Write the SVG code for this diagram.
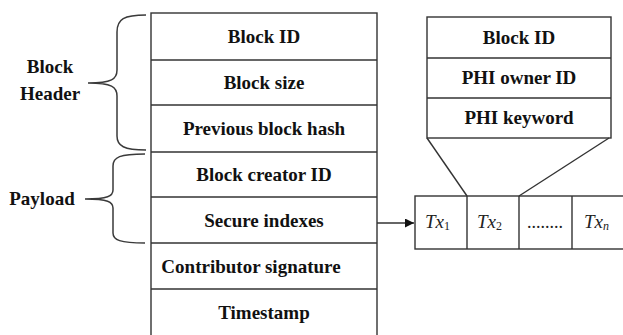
<svg xmlns="http://www.w3.org/2000/svg" width="623" height="335" viewBox="0 0 623 335" font-family="'Liberation Serif', serif">
  <defs>
    <style>
      .box { fill: #ffffff; stroke: #333333; stroke-width: 1.4; }
      .ln { fill: none; stroke: #333333; stroke-width: 1.4; }
      .brace { fill: none; stroke: #3a3a3a; stroke-width: 1.5; }
      .t { font-weight: bold; font-size: 19px; fill: #111111; text-anchor: middle; }
      .tx { font-style: italic; font-size: 19px; fill: #222222; }
      .sub { font-size: 12px; font-style: normal; }
      .subi { font-size: 12px; font-style: italic; }
      .dots { font-size: 18px; fill: #222222; text-anchor: middle; }
    </style>
    <marker id="arrow" viewBox="0 0 10 10" refX="10" refY="5" markerWidth="9" markerHeight="9" markerUnits="userSpaceOnUse" orient="auto">
      <path d="M0,0 L10,5 L0,10 z" fill="#111111"/>
    </marker>
  </defs>

  <!-- Block structure -->
  <g id="block">
    <rect class="box" x="151" y="13" width="226" height="330"/>
    <line class="ln" x1="151" y1="60" x2="377" y2="60"/>
    <line class="ln" x1="151" y1="105" x2="377" y2="105"/>
    <line class="ln" x1="151" y1="152" x2="377" y2="152"/>
    <line class="ln" x1="151" y1="197" x2="377" y2="197"/>
    <line class="ln" x1="151" y1="243" x2="377" y2="243"/>
    <line class="ln" x1="151" y1="289" x2="377" y2="289"/>
    <text class="t" x="264" y="43">Block ID</text>
    <text class="t" x="264" y="89">Block size</text>
    <text class="t" x="264" y="135">Previous block hash</text>
    <text class="t" x="264" y="181">Block creator ID</text>
    <text class="t" x="264" y="227">Secure indexes</text>
    <text class="t" x="251" y="273">Contributor signature</text>
    <text class="t" x="264" y="319">Timestamp</text>
  </g>

  <!-- Header brace -->
  <g id="header-brace">
    <path class="brace" d="M146,15 C124,15 117,19 117,32 L117,70 C117,79 112,83 88,83 C112,83 117,87 117,96 L117,136 C117,146 124,150 146,150"/>
    <text class="t" x="50" y="73">Block</text>
    <text class="t" x="50" y="100">Header</text>
  </g>

  <!-- Payload brace -->
  <g id="payload-brace">
    <path class="brace" d="M145,154 C120,154 113,157 113,166 L113,190 C113,196 108,199 85,199 C108,199 113,202 113,208 L113,233 C113,240 120,243 145,243"/>
    <text class="t" x="42" y="205">Payload</text>
  </g>

  <!-- Transaction fields -->
  <g id="tx-fields">
    <rect class="box" x="427" y="17" width="184" height="121"/>
    <line class="ln" x1="427" y1="58" x2="611" y2="58"/>
    <line class="ln" x1="427" y1="98" x2="611" y2="98"/>
    <text class="t" x="519" y="44">Block ID</text>
    <text class="t" x="519" y="84">PHI owner ID</text>
    <text class="t" x="519" y="124">PHI keyword</text>
  </g>

  <!-- Transaction list -->
  <g id="tx-list">
    <rect class="box" x="415" y="196" width="215" height="53"/>
    <line class="ln" x1="467" y1="196" x2="467" y2="249"/>
    <line class="ln" x1="519" y1="196" x2="519" y2="249"/>
    <line class="ln" x1="572" y1="196" x2="572" y2="249"/>
    <text class="tx" x="425" y="228">Tx<tspan class="sub" dy="2">1</tspan></text>
    <text class="tx" x="477" y="228">Tx<tspan class="sub" dy="2">2</tspan></text>
    <text class="dots" x="545" y="228">........</text>
    <text class="tx" x="584" y="228">Tx<tspan class="subi" dy="2">n</tspan></text>
  </g>

  <!-- Connectors -->
  <g id="connectors">
    <line class="ln" x1="377" y1="223" x2="414" y2="223" marker-end="url(#arrow)"/>
    <line class="ln" x1="427" y1="138" x2="467" y2="196"/>
    <line class="ln" x1="609" y1="138" x2="519" y2="196"/>
  </g>
</svg>
